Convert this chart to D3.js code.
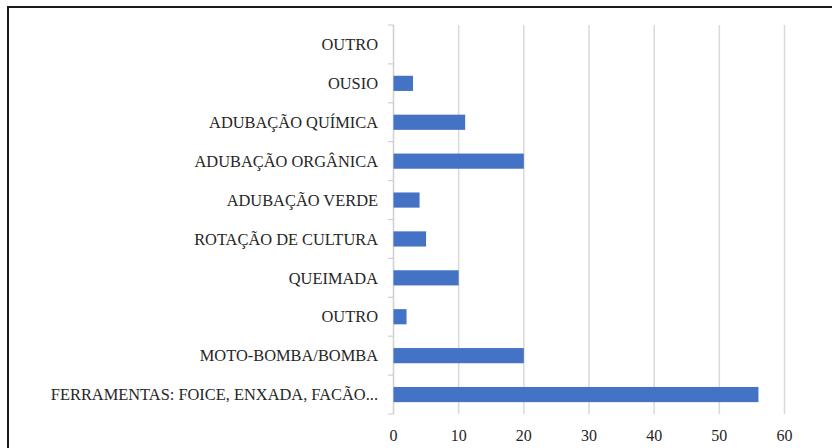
<!DOCTYPE html>
<meta charset="utf-8">
<head>
  <title>Práticas</title>
</head>
<style>
body { margin: 0; background: #fff; }
svg { display: block; }
</style>
<body>
  <div id="content"></div>
  <script src="https://cdnjs.cloudflare.com/ajax/libs/d3/7.8.5/d3.min.js"></script>
  <script>

// data, top to bottom as in the chart
var categories = ['OUTRO', 'OUSIO', 'ADUBAÇÃO QUÍMICA', 'ADUBAÇÃO ORGÂNICA', 'ADUBAÇÃO VERDE',
  'ROTAÇÃO DE CULTURA', 'QUEIMADA', 'OUTRO ', 'MOTO-BOMBA/BOMBA', 'FERRAMENTAS: FOICE, ENXADA, FACÃO...'];
var values = [0, 3, 11, 20, 4, 5, 10, 2, 20, 56];
var xTicks = [0, 10, 20, 30, 40, 50, 60];

var width = 832, height = 448;
var font = "'Liberation Serif', 'DejaVu Serif', serif";
var svg = d3.select('#content').append('svg')
  .attr('width', width)
  .attr('height', height);

// frame
svg.append('rect')
  .attr('x', 8).attr('y', 7)
  .attr('width', 900).attr('height', 600)
  .attr('fill', 'none')
  .attr('stroke', '#1a1a1a')
  .attr('stroke-width', 2);

var x = d3.scaleLinear().domain([0, 60]).range([393.5, 784.5]);
var y = d3.scaleBand().domain(categories).range([25, 414]).paddingInner(0.61).paddingOuter(0.305);

//grid
svg.append('g').selectAll('line')
  .data(xTicks.slice(1))
  .join('line')
  .attr('x1', d => x(d)).attr('x2', d => x(d))
  .attr('y1', 25).attr('y2', 414)
  .attr('stroke', '#d9d9d9')
  .attr('stroke-width', 1.5);

// y axis with ticks on band edges
var step = y.step();
var edges = d3.range(categories.length + 1).map(i => 25 + i * step);
svg.append('line')
  .attr('x1', 393.5).attr('x2', 393.5)
  .attr('y1', 25).attr('y2', 414)
  .attr('stroke', '#d0d0d0').attr('stroke-width', 1.5);
svg.append('g').selectAll('line')
  .data(edges)
  .join('line')
  .attr('x1', 388).attr('x2', 393.5)
  .attr('y1', d => d).attr('y2', d => d)
  .attr('stroke', '#d0d0d0').attr('stroke-width', 1.2);

svg.append('g').selectAll('text')
  .data(categories)
  .join('text')
  .attr('x', 378)
  .attr('y', d => y(d) + y.bandwidth() / 2)
  .attr('dy', '0.35em')
  .attr('text-anchor', 'end')
  .attr('font-family', font)
  .attr('font-size', 16.4)
  .attr('fill', '#262626')
  .text(d => d.trim());

// bars
svg.append('g').selectAll('rect')
  .data(values)
  .join('rect')
  .attr('x', x(0))
  .attr('y', (d, i) => y(categories[i]))
  .attr('width', d => x(d) - x(0))
  .attr('height', y.bandwidth())
  .attr('fill', '#4472c4');

// x axis labels
svg.append('g').selectAll('text')
  .data(xTicks)
  .join('text')
  .attr('x', d => x(d))
  .attr('y', 435)
  .attr('dy', '0.35em')
  .attr('text-anchor', 'middle')
  .attr('font-family', font)
  .attr('font-size', 16)
  .attr('fill', '#262626')
  .text(d => d);
</script>
</body>
</html>
